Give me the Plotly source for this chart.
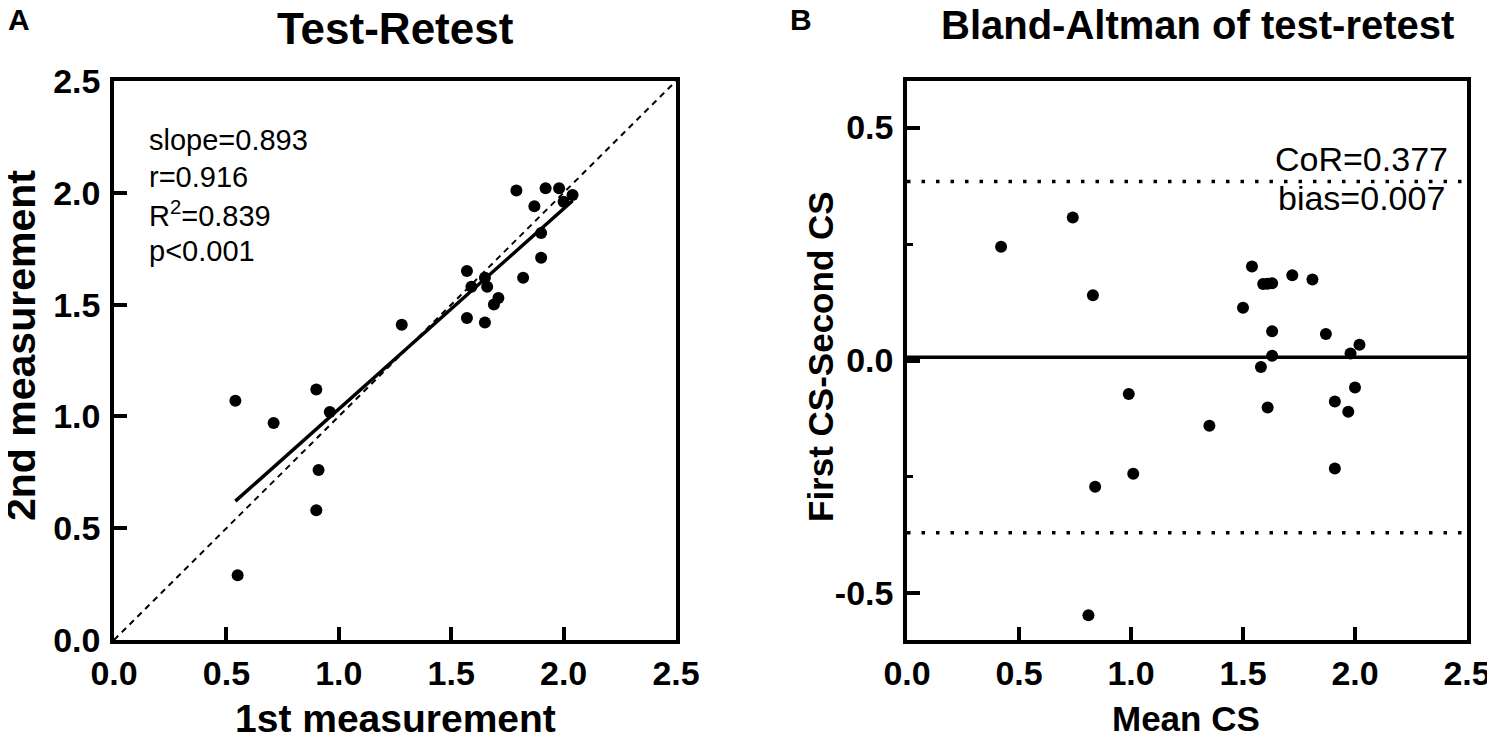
import numpy as np
import plotly.graph_objects as go
from plotly.subplots import make_subplots

# ── data ──────────────────────────────────────────────────────────────────────
# A: test-retest, 1st vs 2nd measurement
FIRST_MEAS = [0.54, 0.55, 0.71, 0.90, 0.91, 0.90, 0.96, 1.28, 1.57, 1.59, 1.57,
              1.65, 1.66, 1.65, 1.69, 1.71, 1.82, 1.79, 1.87, 1.90, 1.90, 1.92,
              1.98, 2.00, 2.04]
SECOND_MEAS = [1.07, 0.29, 0.97, 1.12, 0.76, 0.58, 1.02, 1.41, 1.65, 1.58, 1.44,
               1.62, 1.58, 1.42, 1.50, 1.53, 1.62, 2.01, 1.94, 1.82, 1.71, 2.02,
               2.02, 1.96, 1.99]
STATS_A = ["slope=0.893", "r=0.916", "R<sup>2</sup>=0.839", "p&lt;0.001"]

# B: Bland-Altman, mean CS vs difference
MEAN_CS = [0.42, 0.74, 0.83, 0.84, 0.81, 0.99, 1.01, 1.35, 1.50, 1.54, 1.59,
           1.61, 1.63, 1.72, 1.81, 1.63, 1.63, 1.58, 1.61, 1.87, 1.98, 2.02,
           2.00, 1.91, 1.97, 1.91]
DIFF_CS = [0.244, 0.307, 0.140, -0.271, -0.547, -0.072, -0.243, -0.140, 0.113,
           0.202, 0.164, 0.165, 0.166, 0.183, 0.174, 0.063, 0.010, -0.014,
           -0.101, 0.057, 0.015, 0.034, -0.058, -0.088, -0.110, -0.232]
BIAS = 0.007
COR = 0.377

TICKS_A = [0.0, 0.5, 1.0, 1.5, 2.0, 2.5]
TICKS_B_X = [0.0, 0.5, 1.0, 1.5, 2.0, 2.5]
TICKS_B_Y = [-0.5, 0.0, 0.5]
MINOR_B_Y = [-0.25, 0.25]

W, H = 1495, 738
OFF = 8          # page body margin of the browser, compensated here
FONT = "Liberation Sans, Arial, sans-serif"
LW = 3.5


def px(x):
    return (x - OFF) / W


def py(y):
    return 1 - (y - OFF) / H


def labels(vals):
    return [f"{v:.1f}" for v in vals]


fig = make_subplots(rows=1, cols=2)

# ── A ─────────────────────────────────────────────────────────────────────────
fig.add_trace(go.Scatter(
    x=[TICKS_A[0], TICKS_A[-1]], y=[TICKS_A[0], TICKS_A[-1]], mode="lines",
    line=dict(color="black", width=2, dash="6px,5px"), hoverinfo="skip",
), row=1, col=1)

slope, intercept = np.polyfit(FIRST_MEAS, SECOND_MEAS, 1)
fit_x = np.array([min(FIRST_MEAS), max(FIRST_MEAS)])
fig.add_trace(go.Scatter(
    x=fit_x, y=intercept + slope * fit_x, mode="lines",
    line=dict(color="black", width=LW), hoverinfo="skip",
), row=1, col=1)

fig.add_trace(go.Scatter(
    x=FIRST_MEAS, y=SECOND_MEAS, mode="markers",
    marker=dict(color="black", size=12),
), row=1, col=1)

# ── B ─────────────────────────────────────────────────────────────────────────
for yv, dash in [(BIAS, "solid"), (BIAS + COR, "3.5px,11px"), (BIAS - COR, "3.5px,11px")]:
    fig.add_trace(go.Scatter(
        x=[TICKS_B_X[0], TICKS_B_X[-1]], y=[yv, yv], mode="lines",
        line=dict(color="black", width=LW, dash=dash), hoverinfo="skip",
    ), row=1, col=2)

fig.add_trace(go.Scatter(
    x=MEAN_CS, y=DIFF_CS, mode="markers",
    marker=dict(color="black", size=12),
), row=1, col=2)

# ── axes ──────────────────────────────────────────────────────────────────────
axis_style = dict(
    automargin=False,
    showline=True, linecolor="black", linewidth=LW, mirror=True,
    ticks="inside", ticklen=13, tickwidth=LW, tickcolor="black",
    showgrid=False, zeroline=False,
    tickfont=dict(family=FONT, size=34, color="black", weight="bold"),
)
fig.update_xaxes(axis_style, ticklabelstandoff=0)
fig.update_yaxes(axis_style, ticklabelstandoff=3)

fig.update_xaxes(domain=[px(114), px(676)], range=[0, 2.5], tickvals=TICKS_A,
                 ticktext=labels(TICKS_A), row=1, col=1)
fig.update_yaxes(domain=[py(640), py(81)], range=[0, 2.5], tickvals=TICKS_A,
                 ticktext=labels(TICKS_A), row=1, col=1)
fig.update_xaxes(domain=[px(907), px(1467)], range=[0, 2.5], tickvals=TICKS_B_X,
                 ticktext=labels(TICKS_B_X), row=1, col=2)
fig.update_yaxes(domain=[py(640), py(81)], range=[-0.6, 0.6], tickvals=TICKS_B_Y,
                 ticktext=labels(TICKS_B_Y),
                 minor=dict(tickvals=MINOR_B_Y, ticks="inside", ticklen=6,
                            tickwidth=3, tickcolor="black"),
                 row=1, col=2)

# ── text ──────────────────────────────────────────────────────────────────────
def note(text, x, y, size, bold=False, xanchor="center", angle=0):
    fig.add_annotation(
        text=f"<b>{text}</b>" if bold else text,
        xref="paper", yref="paper", x=px(x), y=py(y),
        xanchor=xanchor, yanchor="middle", showarrow=False, textangle=angle,
        font=dict(family=FONT, size=size, color="black"),
    )

note("A", 19, 19, 30, bold=True)
note("B", 801, 20, 30, bold=True)
note("Test-Retest", 395, 28, 44, bold=True)
note("Bland-Altman of test-retest", 1197, 25, 40, bold=True)
note("1st measurement", 395, 718, 39, bold=True)
note("Mean CS", 1186, 718, 35, bold=True)
note("2nd measurement", 21, 346, 41, bold=True, angle=-90)
note("First CS-Second CS", 820, 357, 35, bold=True, angle=-90)

for i, s in enumerate(STATS_A):
    note(s, 147, 140 + 37 * i, 29, xanchor="left")

note(f"CoR={COR:.3f}", 1450, 159, 34, xanchor="right")
note(f"bias={BIAS:.3f}", 1447, 198, 34, xanchor="right")

fig.update_layout(
    width=W, height=H,
    margin=dict(l=0, r=0, t=0, b=0),
    paper_bgcolor="white", plot_bgcolor="white",
    showlegend=False,
    font=dict(family=FONT, color="black"),
)

fig.write_html("out.html")
